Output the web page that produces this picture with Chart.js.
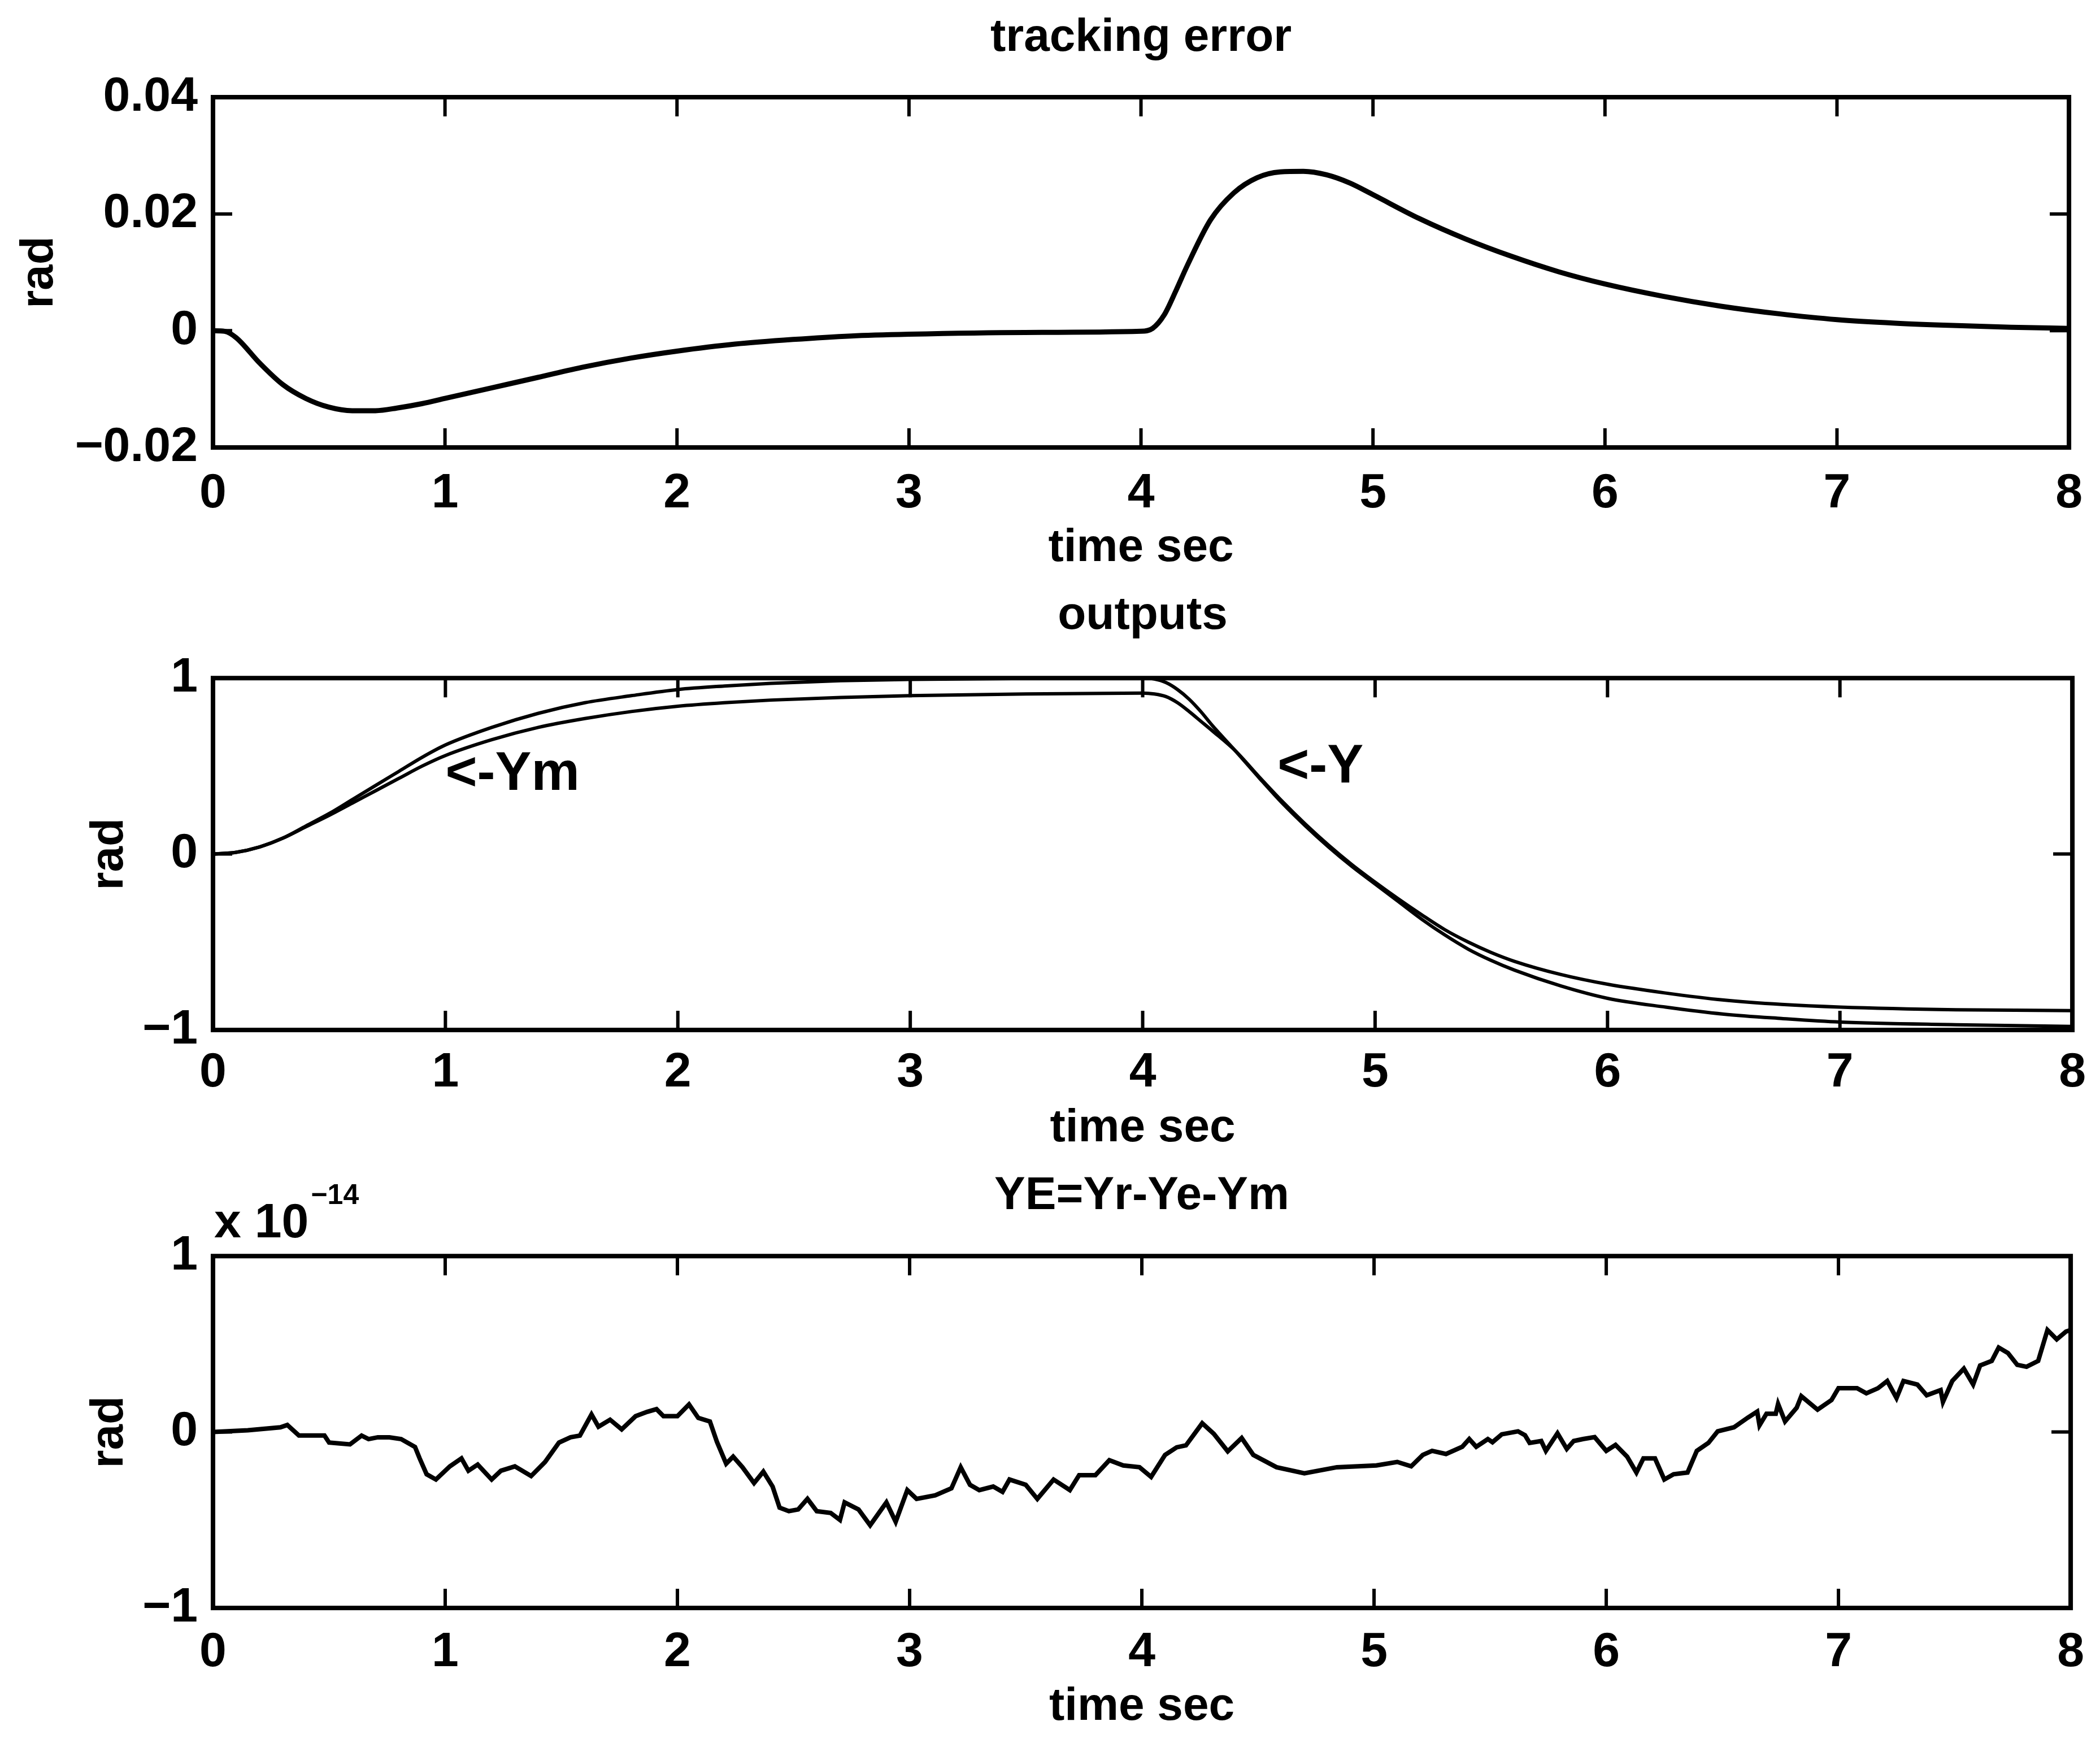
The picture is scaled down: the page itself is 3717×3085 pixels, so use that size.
<!DOCTYPE html>
<html>
<head>
<meta charset="utf-8">
<script src="https://cdn.jsdelivr.net/npm/chart.js@4"></script>
<style>
  body { margin: 0; background: #fff; }
  canvas { position: absolute; left: 0; top: 0; }
</style>
</head>
<body>
<canvas id="errorChart" width="3717" height="3085"></canvas>
<canvas id="outputsChart" width="3717" height="3085"></canvas>
<canvas id="yeChart" width="3717" height="3085"></canvas>
<script>
// shared time axis
const timeTicks = [0, 1, 2, 3, 4, 5, 6, 7, 8];

// tracking error
const errTime = [0, 0.05, 0.1, 0.2, 0.3, 0.4, 0.5, 0.6, 0.7, 0.8,
    0.9, 1.0, 1.2, 1.4, 1.6, 1.8, 2.0, 2.25, 2.5, 2.75,
    3.0, 3.5, 4.0, 4.05, 4.1, 4.15, 4.2, 4.3, 4.4, 4.5,
    4.6, 4.7, 4.8, 4.9, 5.0, 5.2, 5.4, 5.6, 5.8, 6.0,
    6.25, 6.5, 6.75, 7.0, 7.25, 7.5, 7.75, 8.0];
const errValues = [0, -0.0001, -0.0012, -0.0055, -0.0092, -0.0116, -0.0131, -0.0137, -0.0137, -0.0132,
    -0.0125, -0.0116, -0.0098, -0.0080, -0.0062, -0.0047, -0.0035, -0.0023, -0.0015, -0.0009,
    -0.0006, -0.0003, -0.0001, 0.0004, 0.0027, 0.0068, 0.0112, 0.0190, 0.0236, 0.0262,
    0.0272, 0.0273, 0.0267, 0.0253, 0.0233, 0.0192, 0.0157, 0.0127, 0.0101, 0.0080,
    0.0059, 0.0042, 0.0029, 0.0019, 0.0013, 0.0009, 0.0006, 0.0004];
const errTicks = [-0.02, 0, 0.02, 0.04];
const errTickLabels = ['\u22120.02', '0', '0.02', '0.04'];

// outputs
const outTime = [0, 0.1, 0.2, 0.3, 0.4, 0.5, 0.6, 0.7, 0.8, 0.9,
    1.0, 1.2, 1.4, 1.6, 1.8, 2.0, 2.2, 2.4, 2.7, 3.0,
    3.5, 4.0, 4.05, 4.1, 4.15, 4.2, 4.25, 4.3, 4.4, 4.5,
    4.6, 4.7, 4.8, 4.9, 5.0, 5.1, 5.2, 5.3, 5.4, 5.5,
    5.6, 5.8, 6.0, 6.25, 6.5, 6.75, 7.0, 7.5, 8.0];
const outY = [0, 0.01, 0.04, 0.09, 0.16, 0.23, 0.31, 0.39, 0.47, 0.55,
    0.62, 0.72, 0.80, 0.86, 0.90, 0.935, 0.955, 0.97, 0.985, 0.993,
    0.998, 1.0, 0.995, 0.975, 0.935, 0.88, 0.81, 0.73, 0.585, 0.435,
    0.29, 0.16, 0.04, -0.07, -0.17, -0.27, -0.37, -0.46, -0.54, -0.605,
    -0.66, -0.75, -0.82, -0.87, -0.91, -0.935, -0.955, -0.97, -0.98];
const outYm = [0, 0.01, 0.04, 0.09, 0.155, 0.22, 0.29, 0.36, 0.43, 0.50,
    0.56, 0.65, 0.72, 0.77, 0.81, 0.84, 0.86, 0.875, 0.89, 0.90,
    0.91, 0.915, 0.91, 0.895, 0.86, 0.81, 0.755, 0.70, 0.585, 0.44,
    0.30, 0.17, 0.05, -0.06, -0.16, -0.255, -0.345, -0.43, -0.50, -0.56,
    -0.61, -0.685, -0.74, -0.79, -0.83, -0.855, -0.87, -0.885, -0.89];
const outTicks = [-1, 0, 1];
const outTickLabels = ['\u22121', '0', '1'];
const outNotes = ['<-Ym', '<-Y'];
const outNoteAt = [[1.0, 0.45], [4.58, 0.49]];

// YE = Yr - Ye - Ym, values in units of 1e-14
const yeTime = [0, 0.15, 0.29, 0.32, 0.37, 0.48, 0.50, 0.59, 0.64, 0.67,
    0.71, 0.76, 0.81, 0.87, 0.89, 0.92, 0.96, 1.02, 1.07, 1.10,
    1.14, 1.20, 1.24, 1.30, 1.37, 1.43, 1.49, 1.54, 1.58, 1.63,
    1.66, 1.71, 1.76, 1.82, 1.87, 1.91, 1.94, 2.00, 2.05, 2.09,
    2.14, 2.17, 2.21, 2.24, 2.28, 2.33, 2.37, 2.41, 2.44, 2.48,
    2.52, 2.56, 2.60, 2.66, 2.70, 2.72, 2.78, 2.83, 2.90, 2.94,
    2.99, 3.03, 3.11, 3.18, 3.22, 3.26, 3.30, 3.36, 3.40, 3.43,
    3.50, 3.55, 3.62, 3.69, 3.73, 3.80, 3.86, 3.92, 3.99, 4.04,
    4.10, 4.15, 4.19, 4.26, 4.31, 4.37, 4.43, 4.48, 4.58, 4.70,
    4.84, 5.01, 5.10, 5.16, 5.21, 5.25, 5.31, 5.38, 5.41, 5.44,
    5.49, 5.51, 5.55, 5.62, 5.65, 5.67, 5.72, 5.74, 5.79, 5.83,
    5.86, 5.90, 5.95, 6.00, 6.04, 6.09, 6.13, 6.16, 6.21, 6.25,
    6.29, 6.35, 6.39, 6.44, 6.48, 6.55, 6.61, 6.65, 6.66, 6.69,
    6.73, 6.74, 6.77, 6.82, 6.84, 6.91, 6.97, 7.00, 7.08, 7.12,
    7.17, 7.21, 7.25, 7.28, 7.34, 7.38, 7.44, 7.45, 7.49, 7.54,
    7.58, 7.61, 7.66, 7.69, 7.73, 7.77, 7.81, 7.86, 7.90, 7.94,
    7.98, 8.00];
const yeValues = [0, 0.01, 0.027, 0.04, -0.02, -0.02, -0.06, -0.07, -0.02, -0.04,
    -0.03, -0.03, -0.04, -0.085, -0.15, -0.24, -0.27, -0.195, -0.15, -0.22,
    -0.185, -0.27, -0.22, -0.195, -0.25, -0.17, -0.06, -0.03, -0.02, 0.10,
    0.03, 0.07, 0.015, 0.09, 0.115, 0.13, 0.09, 0.09, 0.157, 0.08,
    0.06, -0.055, -0.18, -0.14, -0.20, -0.29, -0.225, -0.31, -0.43, -0.45,
    -0.44, -0.38, -0.45, -0.46, -0.50, -0.40, -0.44, -0.53, -0.40, -0.51,
    -0.33, -0.38, -0.36, -0.32, -0.20, -0.30, -0.33, -0.31, -0.34, -0.27,
    -0.30, -0.38, -0.27, -0.33, -0.245, -0.245, -0.16, -0.19, -0.20, -0.255,
    -0.13, -0.087, -0.076, 0.05, -0.01, -0.11, -0.034, -0.13, -0.20, -0.235,
    -0.20, -0.19, -0.17, -0.195, -0.13, -0.107, -0.125, -0.084, -0.04, -0.084,
    -0.04, -0.058, -0.013, 0.004, -0.018, -0.062, -0.051, -0.107, -0.007, -0.096,
    -0.051, -0.04, -0.029, -0.107, -0.073, -0.14, -0.23, -0.15, -0.15, -0.27,
    -0.24, -0.23, -0.107, -0.062, 0.004, 0.027, 0.082, 0.116, 0.038, 0.104,
    0.104, 0.16, 0.06, 0.138, 0.204, 0.127, 0.182, 0.249, 0.249, 0.22,
    0.249, 0.29, 0.193, 0.29, 0.27, 0.209, 0.238, 0.171, 0.29, 0.36,
    0.27, 0.378, 0.404, 0.48, 0.449, 0.382, 0.371, 0.404, 0.58, 0.527,
    0.571, 0.58];
const yeTicks = [-1, 0, 1];
const yeTickLabels = ['\u22121', '0', '1'];

const FONT = "'Liberation Sans', Arial, sans-serif";
Chart.defaults.font.family = FONT;
Chart.defaults.color = '#000';

function points(xs, ys) {
    return xs.map((x, i) => ({ x: x, y: ys[i] }));
}

// box around the axes with inward ticks, matlab style
const boxPlugin = {
    id: 'box',
    afterDatasetsDraw(chart) {
        const { ctx, chartArea: a, scales: { x, y } } = chart;
        const len = 34;
        ctx.save();
        ctx.strokeStyle = '#000';
        ctx.lineWidth = 6;
        ctx.beginPath();
        x.ticks.forEach(t => {
            const px = x.getPixelForValue(t.value);
            ctx.moveTo(px, a.bottom); ctx.lineTo(px, a.bottom - len);
            ctx.moveTo(px, a.top); ctx.lineTo(px, a.top + len);
        });
        y.ticks.forEach(t => {
            const py = y.getPixelForValue(t.value);
            ctx.moveTo(a.left, py); ctx.lineTo(a.left + len, py);
            ctx.moveTo(a.right, py); ctx.lineTo(a.right - len, py);
        });
        ctx.stroke();
        ctx.lineWidth = 8;
        ctx.strokeRect(a.left, a.top, a.right - a.left, a.bottom - a.top);
        ctx.restore();
    }
};

function xScale(height, tickPad, titlePad) {
    return {
        type: 'linear', min: 0, max: 8,
        grid: { display: false, drawTicks: false },
        border: { display: false },
        afterBuildTicks: s => { s.ticks = timeTicks.map(v => ({ value: v })); },
        afterFit: s => { s.height = height; },
        ticks: { padding: tickPad, autoSkip: false, maxRotation: 0, font: { size: 86, weight: 'bold' } },
        title: { display: true, text: 'time sec', font: { size: 82, weight: 'bold' }, padding: { top: 0, bottom: titlePad } }
    };
}

function yScale(min, max, ticks, labels, titlePad) {
    return {
        type: 'linear', min: min, max: max,
        grid: { display: false, drawTicks: false },
        border: { display: false },
        afterBuildTicks: s => { s.ticks = ticks.map(v => ({ value: v })); },
        afterFit: s => { s.width = 377; },
        ticks: { padding: 27, font: { size: 86, weight: 'bold' }, callback: (v, i) => labels[i] },
        title: { display: true, text: 'rad', font: { size: 82, weight: 'bold' }, padding: { top: titlePad, bottom: 0 } }
    };
}

function titleOpts(text, top, bottom) {
    return { display: true, text: text, fullSize: false, font: { size: 82, weight: 'bold' }, padding: { top: top, bottom: bottom } };
}

const baseOpts = { responsive: false, animation: false, devicePixelRatio: 1 };

// tracking error
new Chart(document.getElementById('errorChart').getContext('2d'), {
    type: 'line',
    data: {
        datasets: [{
            data: points(errTime, errValues),
            borderColor: '#000', borderWidth: 9, pointRadius: 0,
            cubicInterpolationMode: 'monotone', fill: false
        }]
    },
    options: Object.assign({}, baseOpts, {
        layout: { padding: { left: 0, right: 46, top: 0, bottom: 2063 } },
        scales: { x: xScale(230, 31, 2), y: yScale(-0.02, 0.04, errTicks, errTickLabels, 21) },
        plugins: { legend: { display: false }, tooltip: { enabled: false }, title: titleOpts('tracking error', 18, 55.6) }
    }),
    plugins: [boxPlugin]
});

// outputs
const notesPlugin = {
    id: 'notes',
    afterDatasetsDraw(chart) {
        const { ctx, scales: { x, y } } = chart;
        ctx.save();
        ctx.fillStyle = '#000';
        ctx.font = 'bold 96px ' + FONT;
        ctx.textAlign = 'left';
        ctx.textBaseline = 'middle';
        outNotes.forEach((txt, i) => {
            ctx.fillText(txt, x.getPixelForValue(outNoteAt[i][0]), y.getPixelForValue(outNoteAt[i][1]));
        });
        ctx.restore();
    }
};

new Chart(document.getElementById('outputsChart').getContext('2d'), {
    type: 'line',
    data: {
        datasets: [{
            label: 'Y',
            data: points(outTime, outY),
            borderColor: '#000', borderWidth: 6, pointRadius: 0,
            cubicInterpolationMode: 'monotone', fill: false
        }, {
            label: 'Ym',
            data: points(outTime, outYm),
            borderColor: '#000', borderWidth: 6, pointRadius: 0,
            cubicInterpolationMode: 'monotone', fill: false
        }]
    },
    options: Object.assign({}, baseOpts, {
        layout: { padding: { left: 0, right: 46, top: 1022, bottom: 1032 } },
        scales: { x: xScale(230, 25, 6), y: yScale(-1, 1, outTicks, outTickLabels, 145) },
        plugins: { legend: { display: false }, tooltip: { enabled: false }, title: titleOpts('outputs', 19, 60.8) }
    }),
    plugins: [boxPlugin, notesPlugin]
});

// YE=Yr-Ye-Ym
const expPlugin = {
    id: 'exponent',
    afterDraw(chart) {
        const { ctx, chartArea: a } = chart;
        ctx.save();
        ctx.fillStyle = '#000';
        ctx.textAlign = 'left';
        ctx.textBaseline = 'alphabetic';
        ctx.font = 'bold 86px ' + FONT;
        ctx.fillText('x 10', a.left + 2, a.top - 33);
        const w = ctx.measureText('x 10').width;
        ctx.font = 'bold 50px ' + FONT;
        ctx.fillText('\u221214', a.left + 6 + w, a.top - 92);
        ctx.restore();
    }
};

new Chart(document.getElementById('yeChart').getContext('2d'), {
    type: 'line',
    data: {
        datasets: [{
            data: points(yeTime, yeValues),
            borderColor: '#000', borderWidth: 8, pointRadius: 0,
            tension: 0, fill: false
        }]
    },
    options: Object.assign({}, baseOpts, {
        layout: { padding: { left: 0, right: 46, top: 2040, bottom: 0 } },
        scales: { x: xScale(239, 28, 14), y: yScale(-1, 1, yeTicks, yeTickLabels, 145) },
        plugins: { legend: { display: false }, tooltip: { enabled: false }, title: titleOpts('YE=Yr-Ye-Ym', 28, 56.8) }
    }),
    plugins: [boxPlugin, expPlugin]
});
</script>
</body>
</html>
